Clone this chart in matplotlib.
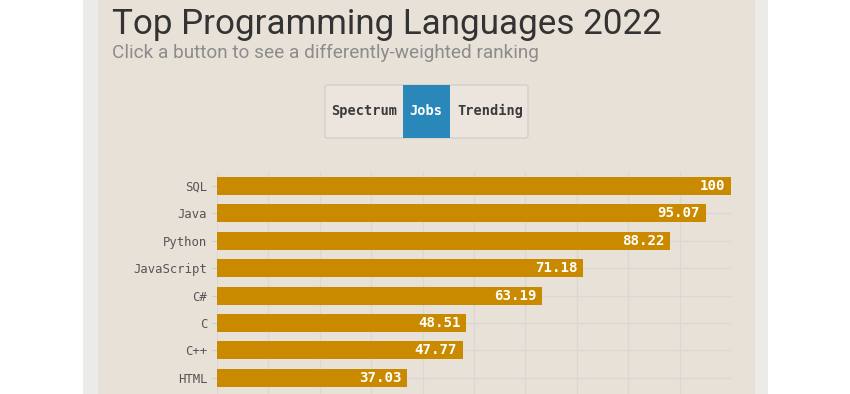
import matplotlib
matplotlib.use("Agg")
import matplotlib.pyplot as plt
from matplotlib.patches import Rectangle, FancyBboxPatch

languages = ["SQL", "Java", "Python", "JavaScript", "C#", "C", "C++", "HTML"]
scores = [100, 95.07, 88.22, 71.18, 63.19, 48.51, 47.77, 37.03]
value_labels = ["100", "95.07", "88.22", "71.18", "63.19", "48.51", "47.77", "37.03"]
buttons = ["Spectrum", "Jobs", "Trending"]

W, H = 850, 394
fig = plt.figure(figsize=(W / 100, H / 100), dpi=100)
fig.patch.set_facecolor("white")

def fx(px):
    return px / W

def fy(py):
    return 1 - py / H

beige = "#e8e1d8"
# panel
fig.patches.append(Rectangle((fx(83), 0), fx(768) - fx(83), 1, transform=fig.transFigure,
                             facecolor="#ebebe7", edgecolor="none", zorder=-2))
fig.patches.append(Rectangle((fx(98), 0), fx(755) - fx(98), 1, transform=fig.transFigure,
                             facecolor=beige, edgecolor="none", zorder=-1))

# title & subtitle
fig.text(fx(112), fy(34), "Top Programming Languages 2022", fontsize=25.2, color="#333333",
         family="Roboto", ha="left", va="baseline")
fig.text(fx(112), fy(58), "Click a button to see a differently-weighted ranking", fontsize=13.7,
         color="#8c8c8c", family="Roboto", ha="left", va="baseline")

# buttons
bx0, bx1, by0, by1 = 325, 528, 85, 138
fig.patches.append(FancyBboxPatch((fx(bx0), fy(by1)), fx(bx1) - fx(bx0), fy(by0) - fy(by1),
                                  boxstyle="round,pad=0,rounding_size=0.004", transform=fig.transFigure,
                                  facecolor="#ebe5dd", edgecolor="#d4cfc8", linewidth=1, zorder=1))
fig.patches.append(Rectangle((fx(403), fy(by1)), fx(450) - fx(403), fy(by0) - fy(by1),
                             transform=fig.transFigure, facecolor="#2a87ba", edgecolor="none", zorder=2))
btn_centers = [364, 426, 490]
for name, cx in zip(buttons, btn_centers):
    fig.text(fx(cx), fy(111), name, fontsize=9.8, fontweight="bold", family="DejaVu Sans Mono",
             color="white" if name == "Jobs" else "#3a3a3a", ha="center", va="center", zorder=3)

# axes
ax_top = 172.3
row = 27.4
ymax_idx = -0.5 + (H - ax_top) / row
ax = fig.add_axes([fx(217), 0, fx(731) - fx(217), fy(ax_top)])
ax.set_zorder(5)
ax.set_facecolor("none")
ypos = list(range(len(languages)))
ax.barh(ypos, scores, height=0.66, color="#c98a00", zorder=2)
ax.set_xlim(0, 100)
ax.set_ylim(ymax_idx, -0.5)
ax.set_yticks(ypos)
ax.set_yticklabels(languages, family="DejaVu Sans Mono", fontsize=8.8, color="#555555")
ax.set_xticks(range(0, 101, 10))
ax.tick_params(axis="x", length=0, labelbottom=False)
ax.tick_params(axis="y", length=3.5, color="#cfcac2", pad=3.5)
ax.grid(True, color="#dbd8d2", linewidth=0.9, zorder=0)
ax.set_axisbelow(True)
for s in ax.spines.values():
    s.set_visible(False)

for y, v, lab in zip(ypos, scores, value_labels):
    ax.annotate(lab, (v, y), xytext=(-4, 0), textcoords="offset points", ha="right", va="center",
                fontsize=10.2, fontweight="bold", family="DejaVu Sans Mono", color="white", zorder=3)

fig.savefig("out.png", dpi=100, facecolor=fig.get_facecolor())
